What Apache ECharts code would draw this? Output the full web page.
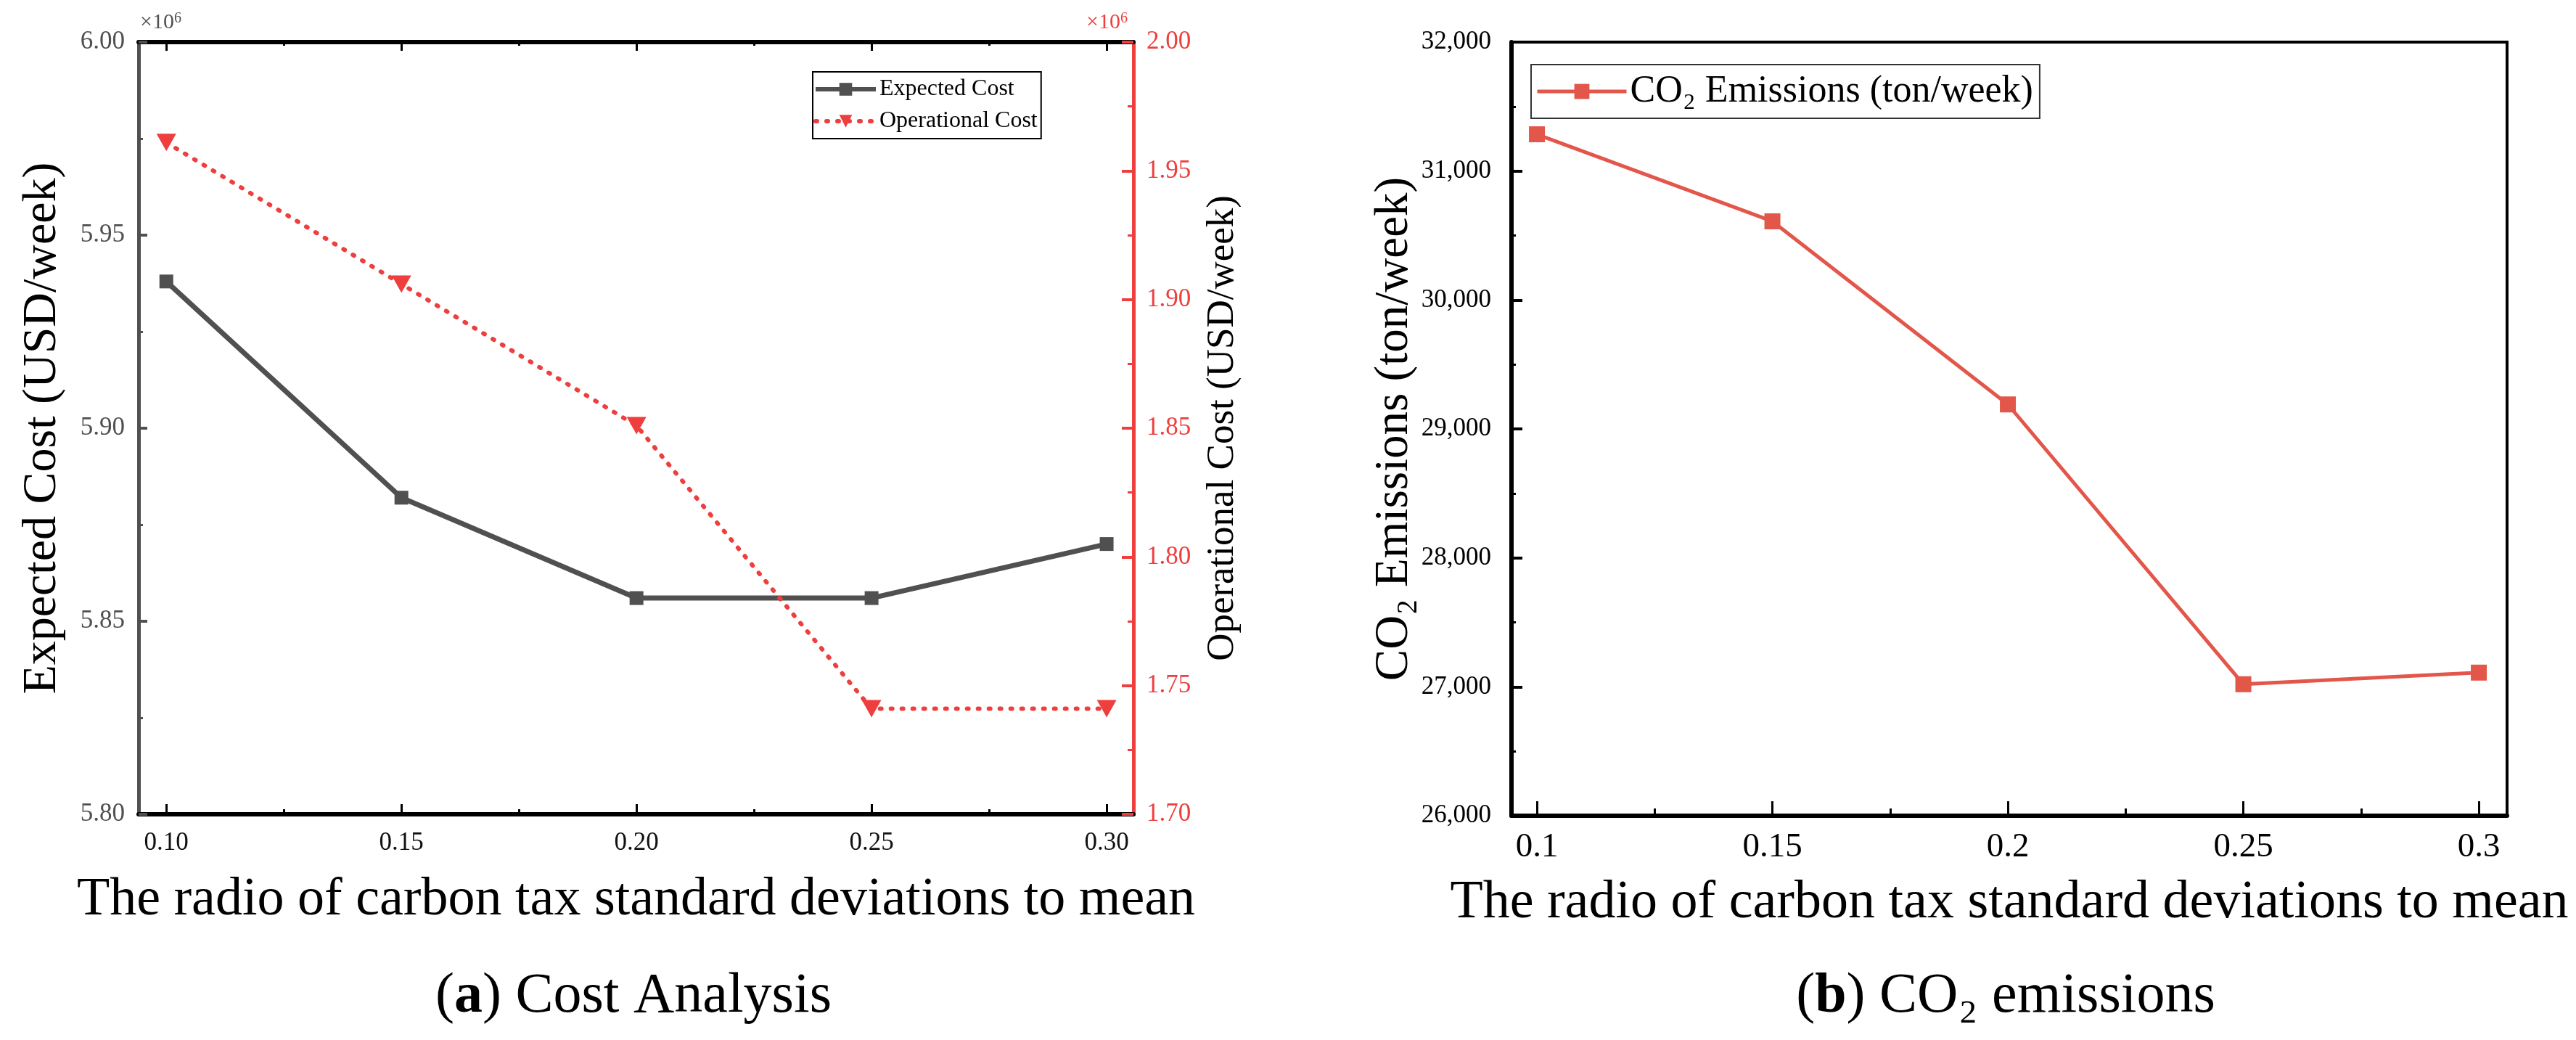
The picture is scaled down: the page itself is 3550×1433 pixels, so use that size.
<!DOCTYPE html>
<html>
<head>
<meta charset="utf-8">
<script src="https://cdn.jsdelivr.net/npm/echarts@6/dist/echarts.min.js"></script>
<style>
html,body{margin:0;padding:0;background:#fff;}
#c{width:3550px;height:1433px;}
</style>
</head>
<body>
<div id="c"></div>
<script>
// ---- data ----
const ratios = [0.10, 0.15, 0.20, 0.25, 0.30];
const expectedCost = [5.938, 5.882, 5.856, 5.856, 5.870];      // x10^6 USD/week
const operationalCost = [1.961, 1.906, 1.851, 1.741, 1.741];   // x10^6 USD/week
const co2Emissions = [31285, 30610, 29190, 27020, 27110];      // ton/week
const xMajorTicks = [0.10, 0.15, 0.20, 0.25, 0.30];
const xMinorTicks = [0.125, 0.175, 0.225, 0.275];

const FONT = 'Liberation Serif';
const GRAY = '#505050';
const RED = '#EE3E3E';
const CO2RED = '#E3564A';

const chart = echarts.init(document.getElementById('c'), null, {renderer: 'canvas'});

const pairs = (ys) => ratios.map((r, i) => [r, ys[i]]);

const X0 = {min: 0.0941, max: 0.3057};
const X1 = {min: 0.0946, max: 0.3060};

function minorX(gridIndex, position, range, len, color) {
  return {
    type: 'value', gridIndex, position, min: range.min, max: range.max,
    axisLine: {show: false}, splitLine: {show: false}, axisLabel: {show: false},
    axisTick: {show: true, inside: true, length: len, customValues: xMinorTicks,
      lineStyle: {color: color, width: 3}}
  };
}

const option = {
  backgroundColor: '#fff',
  animation: false,
  textStyle: {fontFamily: FONT},
  grid: [
    {left: 191, top: 58, width: 1371, height: 1064},
    {left: 2083, top: 58, width: 1372, height: 1066, show: true, borderColor: '#000', borderWidth: 4, backgroundColor: 'transparent'}
  ],
  xAxis: [
    { // 0: left chart bottom
      type: 'value', gridIndex: 0, position: 'bottom', min: X0.min, max: X0.max,
      name: 'The radio of carbon tax standard deviations to mean',
      nameLocation: 'middle', nameGap: 82,
      nameTextStyle: {fontFamily: FONT, fontSize: 74, color: '#000'},
      axisLine: {show: true, onZero: false, lineStyle: {color: '#000', width: 6}},
      axisTick: {show: true, inside: true, length: 14, customValues: xMajorTicks, lineStyle: {color: '#000', width: 3}},
      axisLabel: {show: true, customValues: xMajorTicks, margin: 22, fontFamily: FONT, fontSize: 35, color: '#111',
        formatter: v => v.toFixed(2)},
      splitLine: {show: false}
    },
    minorX(0, 'bottom', X0, 7, '#000'),
    { // 2: left chart top
      type: 'value', gridIndex: 0, position: 'top', min: X0.min, max: X0.max,
      axisLine: {show: true, onZero: false, lineStyle: {color: '#000', width: 6}},
      axisTick: {show: true, inside: true, length: 12, customValues: xMajorTicks, lineStyle: {color: '#000', width: 3}},
      axisLabel: {show: false}, splitLine: {show: false}
    },
    minorX(0, 'top', X0, 5, '#000'),
    { // 4: right chart bottom
      type: 'value', gridIndex: 1, position: 'bottom', min: X1.min, max: X1.max,
      name: 'The radio of carbon tax standard deviations to mean',
      nameLocation: 'middle', nameGap: 84,
      nameTextStyle: {fontFamily: FONT, fontSize: 74, color: '#000'},
      axisLine: {show: true, onZero: false, lineStyle: {color: '#000', width: 6}},
      axisTick: {show: true, inside: true, length: 20, customValues: xMajorTicks, lineStyle: {color: '#000', width: 3}},
      axisLabel: {show: true, customValues: xMajorTicks, margin: 20, fontFamily: FONT, fontSize: 47, color: '#000'},
      splitLine: {show: false}
    },
    minorX(1, 'bottom', X1, 10, '#000')
  ],
  yAxis: [
    { // 0: Expected cost
      type: 'value', gridIndex: 0, position: 'left', min: 5.80, max: 6.00, interval: 0.05,
      name: 'Expected Cost (USD/week)', nameLocation: 'middle', nameGap: 99,
      nameTextStyle: {fontFamily: FONT, fontSize: 66, color: '#000'},
      axisLine: {show: true, onZero: false, lineStyle: {color: GRAY, width: 5}},
      axisTick: {show: true, inside: true, length: 12, lineStyle: {color: GRAY, width: 4}},
      minorTick: {show: true, splitNumber: 2, length: 6, lineStyle: {color: GRAY, width: 3}},
      axisLabel: {margin: 19, fontFamily: FONT, fontSize: 35, color: GRAY, formatter: v => v.toFixed(2)},
      splitLine: {show: false}
    },
    { // 1: Operational cost
      type: 'value', gridIndex: 0, position: 'right', min: 1.70, max: 2.00, interval: 0.05,
      name: 'Operational Cost (USD/week)', nameLocation: 'middle', nameGap: 97,
      nameTextStyle: {fontFamily: FONT, fontSize: 53, color: '#000'},
      axisLine: {show: true, onZero: false, lineStyle: {color: RED, width: 5}},
      axisTick: {show: true, inside: true, length: 16, lineStyle: {color: RED, width: 4}},
      minorTick: {show: true, splitNumber: 2, length: 8, lineStyle: {color: RED, width: 3}},
      axisLabel: {margin: 18, fontFamily: FONT, fontSize: 35, color: RED, formatter: v => v.toFixed(2)},
      splitLine: {show: false}
    },
    { // 2: CO2
      type: 'value', gridIndex: 1, position: 'left', min: 26000, max: 32000, interval: 1000,
      name: 'CO₂ Emissions (ton/week)', nameLocation: 'middle', nameGap: 129,
      nameTextStyle: {fontFamily: FONT, fontSize: 65, color: '#000'},
      axisLine: {show: true, onZero: false, lineStyle: {color: '#000', width: 6}},
      axisTick: {show: true, inside: true, length: 15, lineStyle: {color: '#000', width: 4}},
      minorTick: {show: true, splitNumber: 2, length: 6, lineStyle: {color: '#000', width: 3}},
      axisLabel: {margin: 28, fontFamily: FONT, fontSize: 35, color: '#000',
        formatter: v => v.toLocaleString('en-US')},
      splitLine: {show: false}
    }
  ],
  legend: [
    {
      data: ['Expected Cost', 'Operational Cost'],
      orient: 'vertical', left: 1120, top: 99,
      borderColor: '#000', borderWidth: 2, padding: [5, 5, 5, 1],
      itemWidth: 83, itemHeight: 22, itemGap: 6,
      lineStyle: {width: 6},
      textStyle: {fontFamily: FONT, fontSize: 32, color: '#000', lineHeight: 38}
    },
    {
      data: ['CO₂ Emissions (ton/week)'],
      orient: 'vertical', left: 2110, top: 89,
      borderColor: '#333', borderWidth: 2, padding: [8, 9, 8, 6],
      itemWidth: 123, itemHeight: 26,
      lineStyle: {width: 5},
      textStyle: {fontFamily: FONT, fontSize: 52, color: '#000', lineHeight: 58}
    }
  ],
  title: [
    {
      text: '{n|(}{b|a}{n|) Cost Analysis}', left: 868, top: 1330, textAlign: 'center',
      textStyle: {fontWeight: 'normal', fontFamily: FONT, fontSize: 78, rich: {
        n: {fontFamily: FONT, fontSize: 78, color: '#000', fontWeight: 'normal'},
        b: {fontFamily: FONT, fontSize: 78, color: '#000', fontWeight: 'bold'}
      }}
    },
    {
      text: '{n|(}{b|b}{n|) CO₂ emissions}', left: 2759, top: 1330, textAlign: 'center',
      textStyle: {fontWeight: 'normal', fontFamily: FONT, fontSize: 78, rich: {
        n: {fontFamily: FONT, fontSize: 78, color: '#000', fontWeight: 'normal'},
        b: {fontFamily: FONT, fontSize: 78, color: '#000', fontWeight: 'bold'}
      }}
    }
  ],
  graphic: [
    {type: 'text', left: 193, top: 16, style: {text: '×10{s|6}', fontFamily: FONT, fontSize: 30, fill: GRAY,
      rich: {s: {fontFamily: FONT, fontSize: 20, fill: GRAY, verticalAlign: 'top'}}}},
    {type: 'text', left: 1497, top: 16, style: {text: '×10{s|6}', fontFamily: FONT, fontSize: 30, fill: RED,
      rich: {s: {fontFamily: FONT, fontSize: 20, fill: RED, verticalAlign: 'top'}}}}
  ],
  series: [
    {
      name: 'Expected Cost', type: 'line', xAxisIndex: 0, yAxisIndex: 0,
      data: pairs(expectedCost),
      symbol: 'rect', symbolSize: 19,
      itemStyle: {color: GRAY},
      lineStyle: {color: GRAY, width: 7}
    },
    {
      name: 'Operational Cost', type: 'line', xAxisIndex: 0, yAxisIndex: 1,
      data: pairs(operationalCost),
      symbol: 'triangle', symbolRotate: 180, symbolSize: [27, 24],
      itemStyle: {color: RED},
      lineStyle: {color: RED, width: 6, type: [2, 13], cap: 'round'}
    },
    {
      name: 'CO₂ Emissions (ton/week)', type: 'line', xAxisIndex: 4, yAxisIndex: 2,
      data: pairs(co2Emissions),
      symbol: 'rect', symbolSize: 22,
      itemStyle: {color: CO2RED},
      lineStyle: {color: CO2RED, width: 5}
    }
  ]
};
chart.setOption(option);
</script>
</body>
</html>
